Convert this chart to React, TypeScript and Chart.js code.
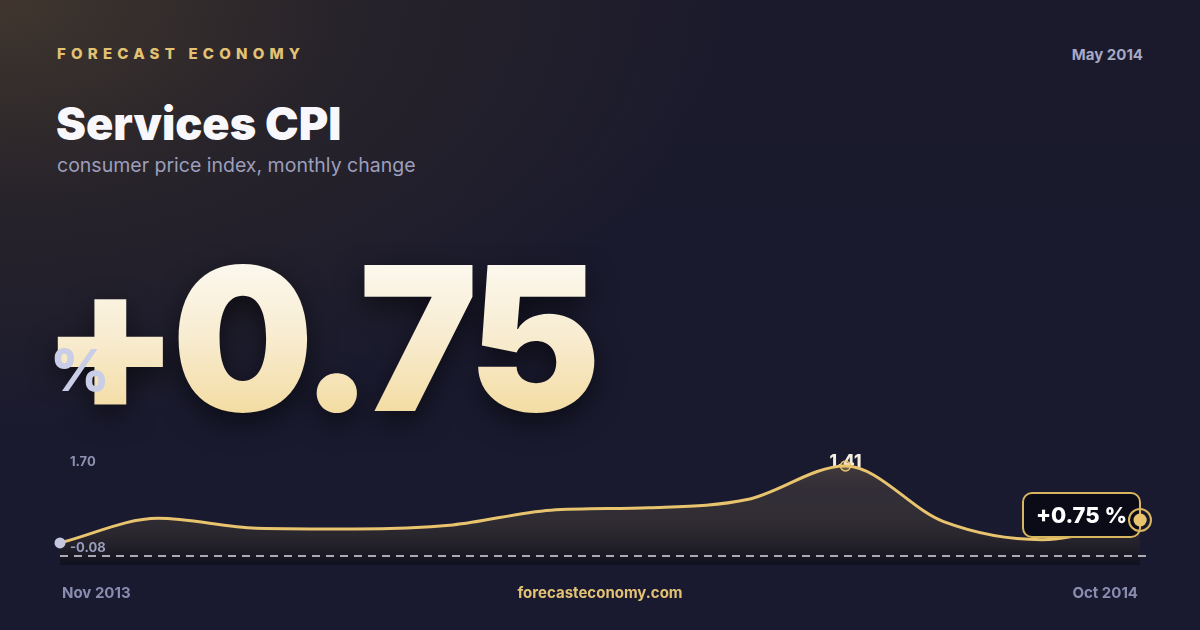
import { useEffect, useRef } from "react"
import { Chart, registerables } from "chart.js"

Chart.register(...registerables)

// Services CPI, monthly change (%)
const months = [
  "Nov 2013", "Dec 2013", "Jan 2014", "Feb 2014", "Mar 2014", "Apr 2014",
  "May 2014", "Jun 2014", "Jul 2014", "Aug 2014", "Sep 2014", "Oct 2014",
]
const cpiChange = [0.47, 0.77, 0.65, 0.64, 0.69, 0.87, 0.9, 1.0, 1.41, 0.73, 0.51, 0.75]
const rangeLabels = ["1.70", "-0.08"]
const peakIndex = 8
const yMin = 0.2
const yMax = 1.85
const baseline = 0.31

const GOLD = "#e8c46e"
const FONT = "Inter, 'Noto Sans', sans-serif"

const markerPlugin = {
  id: "markers",
  beforeDatasetsDraw(chart: Chart) {
    const { ctx } = chart
    const meta = chart.getDatasetMeta(0)
    const peak = meta.data[peakIndex]
    ctx.save()
    ctx.font = `800 17px ${FONT}`
    ctx.fillStyle = "#f3eee0"
    ctx.textAlign = "center"
    ctx.textBaseline = "middle"
    ctx.fillText(cpiChange[peakIndex].toFixed(2), peak.x, peak.y - 4)
    ctx.restore()
  },
  afterDatasetsDraw(chart: Chart) {
    const { ctx, chartArea, scales } = chart
    const meta = chart.getDatasetMeta(0)
    ctx.save()
    // dashed baseline
    const by = scales.y.getPixelForValue(baseline)
    ctx.strokeStyle = "rgba(255,255,255,0.85)"
    ctx.lineWidth = 1.5
    ctx.setLineDash([8, 6])
    ctx.beginPath()
    ctx.moveTo(chartArea.left, by)
    ctx.lineTo(chartArea.right + 6, by)
    ctx.stroke()
    ctx.setLineDash([])

    // last value badge
    const last = meta.data[meta.data.length - 1]
    const w = 117
    const h = 44
    const bx = last.x - w
    const byTop = last.y - 27
    ctx.beginPath()
    ctx.roundRect(bx, byTop, w, h, 9)
    ctx.fillStyle = "#0b0b17"
    ctx.fill()
    ctx.strokeStyle = "#d8b55f"
    ctx.lineWidth = 2
    ctx.stroke()
    ctx.font = `800 22px ${FONT}`
    ctx.fillStyle = "#ffffff"
    ctx.textAlign = "center"
    ctx.textBaseline = "middle"
    const v = cpiChange[cpiChange.length - 1]
    ctx.fillText(`${v >= 0 ? "+" : ""}${v.toFixed(2)} %`, bx + w / 2, byTop + h / 2 + 1)

    // redraw last point on top of badge, with ring
    last.draw(ctx)
    ctx.beginPath()
    ctx.arc(last.x, last.y, 11, 0, Math.PI * 2)
    ctx.strokeStyle = "#d8b55f"
    ctx.lineWidth = 2
    ctx.stroke()
    ctx.restore()
  },
}

function SparkChart() {
  const chartRef = useRef<HTMLCanvasElement>(null)
  const chartInstance = useRef<Chart | null>(null)

  useEffect(() => {
    if (chartRef.current) {
      if (chartInstance.current) {
        chartInstance.current.destroy()
      }
      const ctx = chartRef.current.getContext("2d")
      if (ctx) {
        const lastIdx = cpiChange.length - 1
        chartInstance.current = new Chart(ctx, {
          type: "line",
          data: {
            labels: months,
            datasets: [
              {
                data: cpiChange,
                borderColor: GOLD,
                borderWidth: 3,
                cubicInterpolationMode: "monotone",
                fill: "start",
                clip: false,
                backgroundColor: (context: any) => {
                  const area = context.chart.chartArea
                  if (!area) return "rgba(232,196,110,0.15)"
                  const g = context.chart.ctx.createLinearGradient(0, area.top, 0, area.bottom)
                  g.addColorStop(0, "rgba(232,196,110,0.32)")
                  g.addColorStop(0.45, "rgba(160,135,90,0.18)")
                  g.addColorStop(1, "rgba(8,8,14,0.5)")
                  return g
                },
                pointRadius: (c: any) =>
                  c.dataIndex === 0 ? 5.5 : c.dataIndex === peakIndex ? 5 : c.dataIndex === lastIdx ? 6.5 : 0,
                pointBackgroundColor: (c: any) =>
                  c.dataIndex === 0 ? "#c4c7df" : c.dataIndex === peakIndex ? "rgba(232,196,110,0.25)" : GOLD,
                pointBorderColor: (c: any) => (c.dataIndex === 0 ? "#c4c7df" : GOLD),
                pointBorderWidth: (c: any) => (c.dataIndex === peakIndex ? 1.5 : 0),
              },
            ],
          },
          options: {
            responsive: true,
            maintainAspectRatio: false,
            animation: false,
            layout: { autoPadding: false, padding: { left: 20, right: 20, top: 0, bottom: 0 } },
            plugins: {
              legend: { display: false },
              tooltip: { enabled: false },
            },
            scales: {
              x: { display: false, offset: false },
              y: { display: false, min: yMin, max: yMax },
            },
          },
          plugins: [markerPlugin],
        })
      }
    }

    return () => {
      if (chartInstance.current) {
        chartInstance.current.destroy()
      }
    }
  }, [])

  return (
    <div style={{ position: "absolute", left: 40, top: 430, width: 1120, height: 135 }}>
      <canvas ref={chartRef} />
    </div>
  )
}

const abs = (o: any) => ({ position: "absolute" as const, lineHeight: 1, whiteSpace: "nowrap" as const, ...o })

export default function App() {
  useEffect(() => {
    document.body.style.margin = "0"
  }, [])

  const last = cpiChange[cpiChange.length - 1]

  return (
    <div
      style={{
        position: "fixed",
        left: 0,
        top: 0,
        width: 1200,
        height: 630,
        overflow: "hidden",
        fontFamily: FONT,
        background:
          "radial-gradient(ellipse 950px 560px at 0px 0px, rgba(64,54,46,1) 0%, rgba(42,37,42,0.85) 35%, rgba(26,26,46,0) 78%), linear-gradient(180deg, #1b1a2c 0%, #191a30 100%)",
      }}
    >
      <div style={abs({ left: 57, top: 46, fontSize: 15, fontWeight: 800, letterSpacing: 5.2, color: "#e3c274" })}>
        FORECAST ECONOMY
      </div>
      <div style={abs({ right: 57, top: 47, fontSize: 15, fontWeight: 700, color: "#a6a9c6" })}>May 2014</div>
      <div style={abs({ left: 56, top: 101, fontSize: 45, fontWeight: 900, color: "#f8f8fc", letterSpacing: 0 })}>
        Services CPI
      </div>
      <div style={abs({ left: 57, top: 156, fontSize: 19.5, fontWeight: 400, color: "#9c9ebb" })}>
        consumer price index, monthly change
      </div>

      <div
        style={abs({
          left: 41,
          top: 238,
          fontSize: 200,
          fontWeight: 900,
          letterSpacing: -8,
          paddingRight: 30,
          backgroundImage: "linear-gradient(180deg, #fdfcf8 0%, #f8ecd0 50%, #f2d794 100%)",
          WebkitBackgroundClip: "text",
          backgroundClip: "text",
          color: "transparent",
          filter: "drop-shadow(0px 10px 14px rgba(0,0,0,0.55))",
        })}
      >
        {`${last >= 0 ? "+" : ""}${last.toFixed(2)}`}
      </div>
      <div style={abs({ left: 50, top: 341, fontSize: 58, fontWeight: 800, color: "#c9cde6" })}>%</div>

      <SparkChart />

      <div style={abs({ left: 70, top: 455, fontSize: 13, fontWeight: 700, color: "#8e91b0" })}>{rangeLabels[0]}</div>
      <div style={abs({ left: 70, top: 541, fontSize: 13, fontWeight: 700, color: "#9a9dbb" })}>{rangeLabels[1]}</div>

      <div style={abs({ left: 62, top: 585, fontSize: 15, fontWeight: 700, color: "#8a8db0" })}>{months[0]}</div>
      <div style={abs({ left: 0, width: 1200, textAlign: "center", top: 585, fontSize: 15, fontWeight: 700, color: "#e3c274" })}>
        forecasteconomy.com
      </div>
      <div style={abs({ right: 62, top: 585, fontSize: 15, fontWeight: 700, color: "#8a8db0" })}>
        {months[months.length - 1]}
      </div>
    </div>
  )
}
